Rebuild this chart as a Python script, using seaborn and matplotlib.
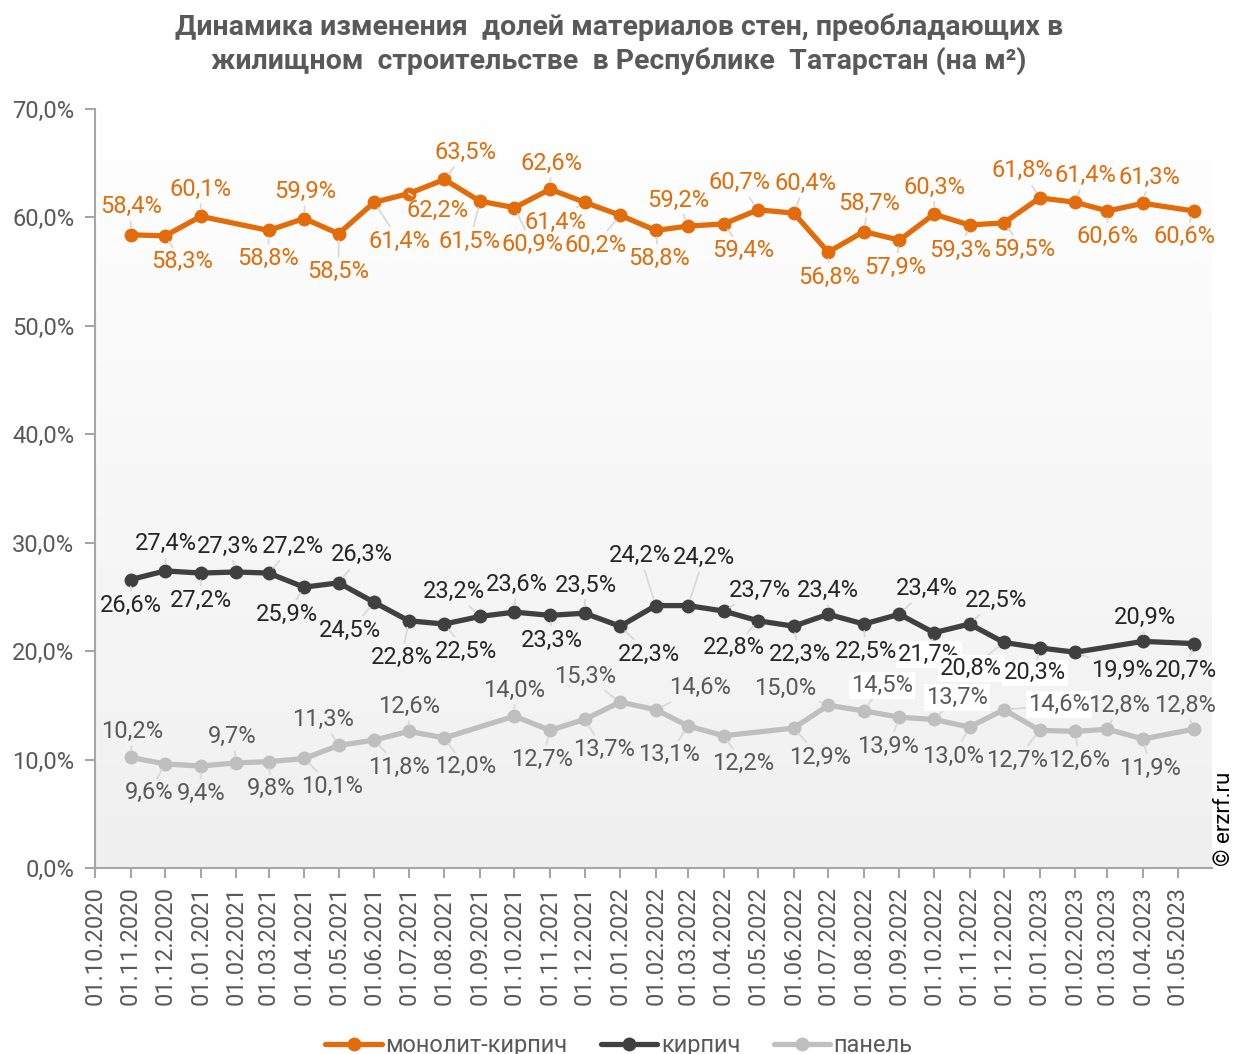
import numpy as np
import pandas as pd
import seaborn as sns
import matplotlib.pyplot as plt
import matplotlib.dates as mdates
from matplotlib.colors import LinearSegmentedColormap
from matplotlib.lines import Line2D
from matplotlib.ticker import FuncFormatter, MultipleLocator

# даты наблюдений (последняя точка - середина мая)
dates = ['2020-11-01', '2020-12-01', '2021-01-01', '2021-02-01', '2021-03-01', '2021-04-01',
         '2021-05-01', '2021-06-01', '2021-07-01', '2021-08-01', '2021-09-01', '2021-10-01',
         '2021-11-01', '2021-12-01', '2022-01-01', '2022-02-01', '2022-03-01', '2022-04-01',
         '2022-05-01', '2022-06-01', '2022-07-01', '2022-08-01', '2022-09-01', '2022-10-01',
         '2022-11-01', '2022-12-01', '2023-01-01', '2023-02-01', '2023-03-01', '2023-04-01',
         '2023-05-15']

monolit = [58.4, 58.3, 60.1, np.nan, 58.8, 59.9, 58.5, 61.4, 62.2, 63.5, 61.5, 60.9,
           62.6, 61.4, 60.2, 58.8, 59.2, 59.4, 60.7, 60.4, 56.8, 58.7, 57.9, 60.3,
           59.3, 59.5, 61.8, 61.4, 60.6, 61.3, 60.6]
kirpich = [26.6, 27.4, 27.2, 27.3, 27.2, 25.9, 26.3, 24.5, 22.8, 22.5, 23.2, 23.6,
           23.3, 23.5, 22.3, 24.2, 24.2, 23.7, 22.8, 22.3, 23.4, 22.5, 23.4, 21.7,
           22.5, 20.8, 20.3, 19.9, np.nan, 20.9, 20.7]
panel = [10.2, 9.6, 9.4, 9.7, 9.8, 10.1, 11.3, 11.8, 12.6, 12.0, np.nan, 14.0,
         12.7, 13.7, 15.3, 14.6, 13.1, 12.2, np.nan, 12.9, 15.0, 14.5, 13.9, 13.7,
         13.0, 14.6, 12.7, 12.6, 12.8, 11.9, 12.8]

series_names = ['монолит-кирпич', 'кирпич', 'панель']
title = ('Динамика изменения  долей материалов стен, преобладающих в\n'
         'жилищном  строительстве  в Республике  Татарстан (на м²)')

# смещения подписей в пикселях (dx, dy вверх)
off_monolit = [(0, 28), (17, -26), (0, 27), None, (0, -28), (1, 27), (0, -38), (25, -39),
               (29, -17), (21, 27), (-10, -40), (18, -37), (1, 26), (-29, -20), (-25, -30),
               (3, -28), (-10, 26), (20, -27), (-19, 27), (12, 30), (1, -25), (5, 28),
               (-4, -27), (1, 27), (-9, -25), (20, -27), (-17, 27), (10, 27), (0, -26),
               (6, 26), (-9, -26)]
off_kirpich = [(0, -26), (1, 27), (0, -27), (-8, 26), (24, 27), (-17, -27), (23, 28),
               (-24, -28), (-7, -37), (22, -27), (-26, 25), (2, 28), (2, -25), (1, 28),
               (29, -28), (-16, 50), (16, 48), (36, 21), (-24, -27), (6, -28), (0, 24),
               (2, -27), (27, 26), (-5, -22), (26, 24), (-33, -26), (-5, -25), (47, -18),
               None, (2, 24), (-8, -27)]
off_panel = [(2, 26), (-16, -29), (0, -27), (-4, 26), (3, -27), (28, -28), (-16, 26),
             (25, -27), (0, 25), (21, -29), None, (0, 26), (-8, -29), (19, -30), (-35, 26),
             (44, 22), (-19, -29), (20, -28), None, (26, -29), (-43, 17), (18, 25),
             (-11, -29), (23, 22), (-16, -29), (55, 5), (-23, -30), (4, -29), (12, 24),
             (7, -29), (-9, 24)]
# подписи на белой подложке
boxed = {1: [23, 25, 26], 2: [21, 23, 25]}

colors = ['#E36C0A', '#404040', '#BFBFBF']
label_colors = ['#E36C0A', '#262626', '#595959']

df = pd.DataFrame({'date': pd.to_datetime(dates), 'монолит-кирпич': monolit,
                   'кирпич': kirpich, 'панель': panel})
long_df = df.melt(id_vars='date', var_name='series', value_name='value')

sns.set_theme(style='white')
plt.rcParams['font.family'] = ['Roboto', 'DejaVu Sans']

fig = plt.figure(figsize=(12.38, 10.54), dpi=100)
ax = fig.add_axes([95 / 1238, 1 - 868 / 1054, 1117 / 1238, 759 / 1054])

# градиентный фон области построения
bg = LinearSegmentedColormap.from_list('bg', ['#f0f0f0', '#ffffff'])
ax.imshow(np.linspace(0, 1, 256).reshape(-1, 1), extent=[0, 1, 0, 1], transform=ax.transAxes,
          origin='lower', aspect='auto', cmap=bg, zorder=0)

sns.lineplot(data=long_df, x='date', y='value', hue='series', hue_order=series_names,
             palette=colors, marker='o', markersize=10, markeredgewidth=0, linewidth=3.8,
             legend=False, ax=ax, zorder=3)

ax.set_xlim(pd.Timestamp('2020-10-01'), pd.Timestamp('2023-05-31'))
ax.set_ylim(0, 70)
ax.yaxis.set_major_locator(MultipleLocator(10))
ax.yaxis.set_major_formatter(FuncFormatter(lambda v, p: f'{v:.1f}%'.replace('.', ',')))
ax.xaxis.set_major_locator(mdates.MonthLocator(bymonthday=1))
ax.xaxis.set_major_formatter(mdates.DateFormatter('%d.%m.%Y'))
ax.set_xlabel('')
ax.set_ylabel('')
ax.tick_params(axis='x', rotation=90, labelsize=17, labelcolor='#595959', length=7,
               width=1.5, color='#a6a6a6', direction='out', bottom=True, pad=6)
ax.tick_params(axis='y', labelsize=17, labelcolor='#595959', length=7, width=1.5,
               color='#a6a6a6', direction='out', left=True, pad=8)
for s in ['top', 'right']:
    ax.spines[s].set_visible(False)
for s in ['left', 'bottom']:
    ax.spines[s].set_color('#a6a6a6')
    ax.spines[s].set_linewidth(1.5)

# подписи значений
for k, (vals, offs, col) in enumerate(zip([monolit, kirpich, panel],
                                          [off_monolit, off_kirpich, off_panel],
                                          label_colors)):
    for i, (d, v, o) in enumerate(zip(df['date'], vals, offs)):
        if o is None or np.isnan(v):
            continue
        box = None
        if i in boxed.get(k, []):
            box = dict(boxstyle='square,pad=0.08', fc='white', ec='none')
        ax.annotate(f'{v:.1f}%'.replace('.', ','), xy=(d, v), xytext=o,
                    textcoords='offset pixels', ha='center', va='center', fontsize=17,
                    color=col, zorder=4, bbox=box,
                    arrowprops=dict(arrowstyle='-', color='#d9d9d9', lw=1.3,
                                    shrinkA=0, shrinkB=5))

fig.text(0.5, 0.958, title, ha='center', va='center', fontsize=20.5, fontweight='bold',
         color='#595959', linespacing=1.3)
fig.text(0.989, 0.223, '© erzrf.ru', rotation=90, ha='center', va='center', fontsize=16,
         color='#000000')

handles = [Line2D([0], [0], color=c, lw=3.8, marker='o', markersize=10, markeredgewidth=0)
           for c in colors]
fig.legend(handles, series_names, loc='center', bbox_to_anchor=(0.5, 0.008), ncol=3,
           frameon=False, fontsize=17, handlelength=2.4, handletextpad=0.15,
           columnspacing=1.4, labelcolor='#595959')

fig.savefig('out.png', dpi=100)
